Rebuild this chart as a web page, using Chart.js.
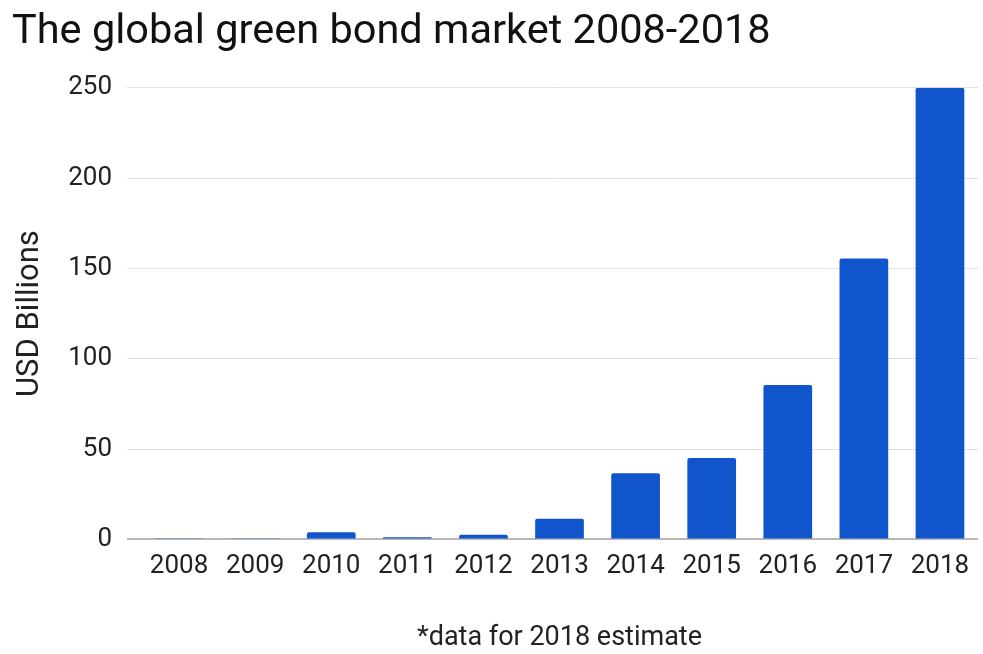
<!DOCTYPE html>
<html>
<head>
<meta charset="utf-8">
<script src="https://cdn.jsdelivr.net/npm/chart.js@4"></script>
<style>
  body { margin: 0; background: #fff; }
  #wrap { width: 983px; height: 654px; }
</style>
</head>
<body>
<div id="wrap"><canvas id="myChart" width="983" height="654"></canvas></div>
<script>
// values (USD billions)
const years = ["2008", "2009", "2010", "2011", "2012", "2013", "2014", "2015", "2016", "2017", "2018"];
const issuance = [0.4, 0.6, 3.9, 1.2, 2.6, 11.5, 36.6, 45, 85.5, 155.5, 250];
const yTicks = [0, 50, 100, 150, 200, 250];

const ctx = document.getElementById("myChart").getContext("2d");
new Chart(ctx, {
  type: "bar",
  data: {
    labels: years,
    datasets: [
      {
        label: "Green bonds",
        data: issuance,
        backgroundColor: "#1155cc",
        borderRadius: 2,
        borderSkipped: "bottom",
        categoryPercentage: 0.64,
        barPercentage: 1
      }
    ]
  },
  options: {
    responsive: false,
    animation: false,
    layout: { padding: { left: 12, right: 5, top: 0, bottom: 0 } },
    plugins: {
      legend: { display: false },
      tooltip: { enabled: false },
      title: {
        display: true,
        text: "The global green bond market 2008-2018",
        align: "start",
        color: "#111",
        font: { family: "Roboto", size: 41.5, weight: "normal" },
        padding: { top: 8, bottom: 30 }
      }
    },
    scales: {
      x: {
        grid: { display: false },
        border: { display: false },
        ticks: { color: "#222", font: { family: "Roboto", size: 26 }, padding: 3 },
        title: {
          display: true,
          text: "*data for 2018 estimate",
          color: "#222",
          font: { family: "Roboto", size: 27 },
          padding: { top: 37, bottom: 0 }
        }
      },
      y: {
        min: 0,
        max: 250,
        afterBuildTicks: axis => { axis.ticks = yTicks.map(v => ({ value: v })); },
        border: { display: false },
        grid: {
          color: c => (c.tick && c.tick.value === 0 ? "#b8b8b8" : "#e2e2e2"),
          lineWidth: c => (c.tick && c.tick.value === 0 ? 2 : 1),
          drawTicks: true,
          tickLength: 14
        },
        ticks: { color: "#222", font: { family: "Roboto", size: 26 }, padding: 15 },
        title: {
          display: true,
          text: "USD Billions",
          color: "#222",
          font: { family: "Roboto", size: 31 },
          padding: { top: 0, bottom: 4 }
        }
      }
    }
  }
});
</script>
</body>
</html>
